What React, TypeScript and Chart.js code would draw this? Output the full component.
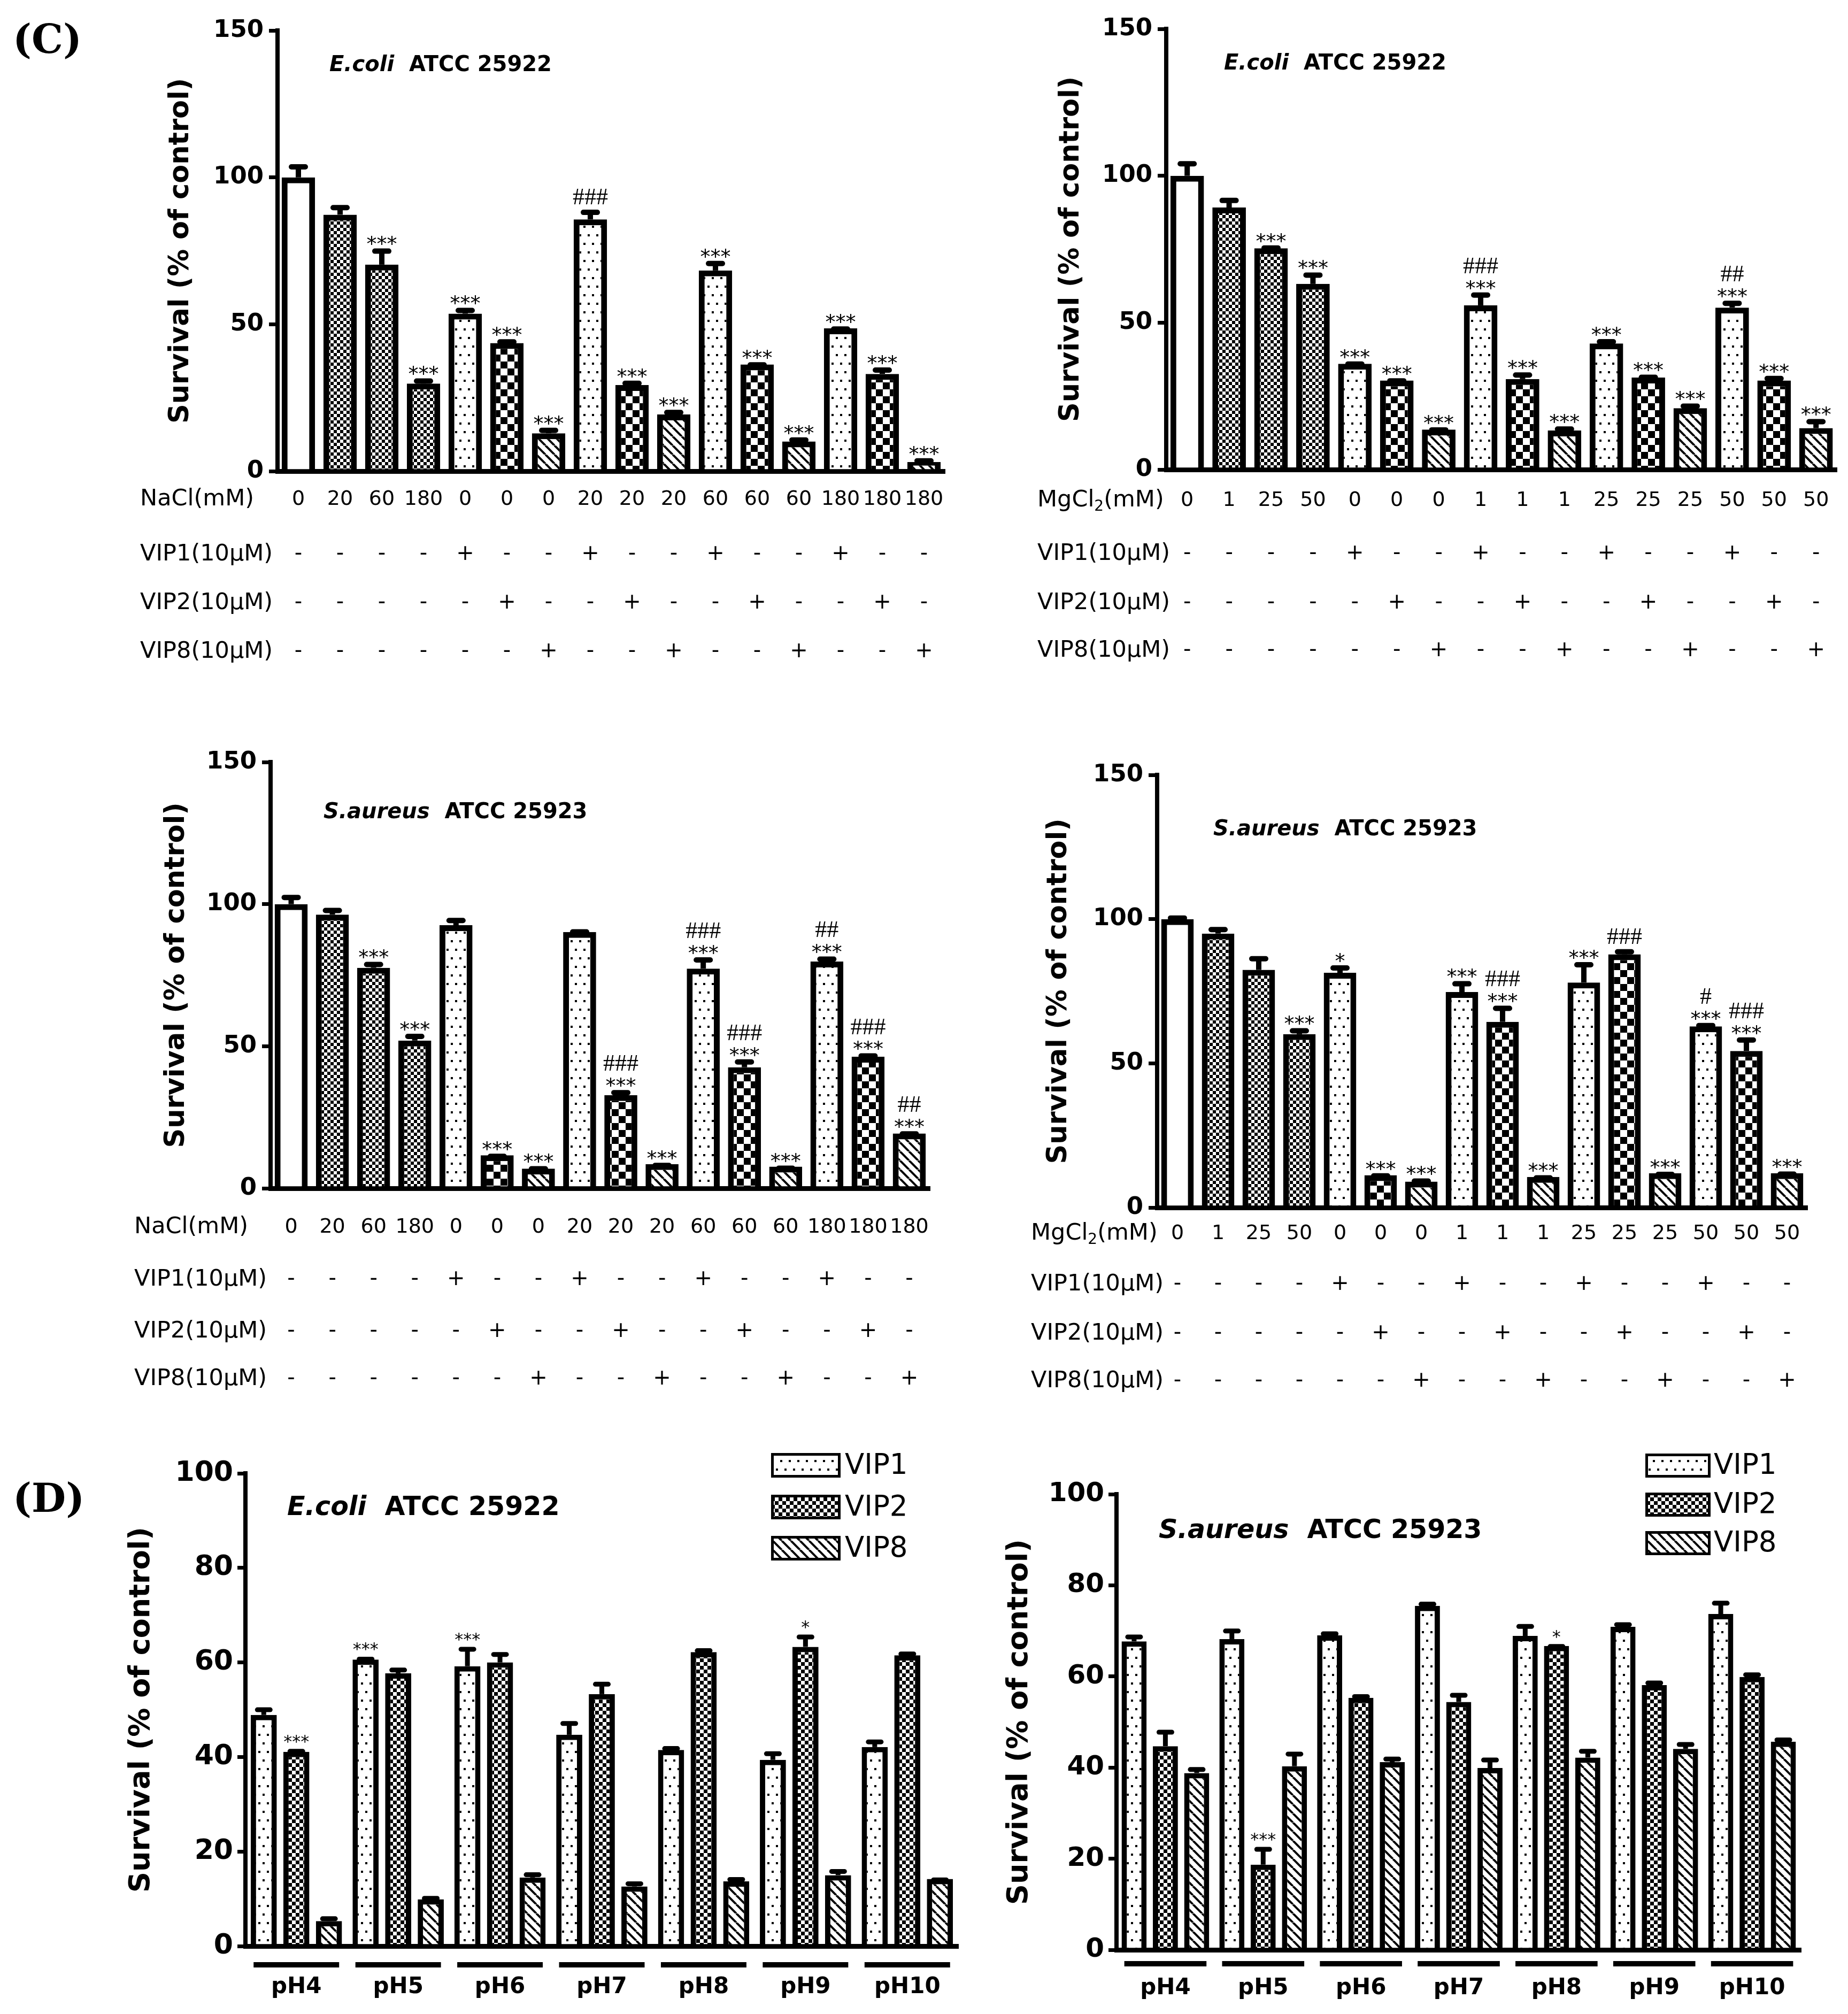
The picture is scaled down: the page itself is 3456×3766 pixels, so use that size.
import React, { useEffect, useRef } from 'react';
import { Chart, registerables } from 'chart.js';

Chart.register(...registerables);

// ---------------- DATA ----------------
const naclLabels = ['0', '20', '60', '180', '0', '0', '0', '20', '20', '20', '60', '60', '60', '180', '180', '180'];
const mgLabels = ['0', '1', '25', '50', '0', '0', '0', '1', '1', '1', '25', '25', '25', '50', '50', '50'];
const vip1Row = ['-', '-', '-', '-', '+', '-', '-', '+', '-', '-', '+', '-', '-', '+', '-', '-'];
const vip2Row = ['-', '-', '-', '-', '-', '+', '-', '-', '+', '-', '-', '+', '-', '-', '+', '-'];
const vip8Row = ['-', '-', '-', '-', '-', '-', '+', '-', '-', '+', '-', '-', '+', '-', '-', '+'];
const barPatterns = ['white', 'fine', 'fine', 'fine', 'dots', 'coarse', 'hatch', 'dots', 'coarse', 'hatch', 'dots', 'coarse', 'hatch', 'dots', 'coarse', 'hatch'];

// E.coli, NaCl
const ecoliNaclValues = [100, 87.3, 70.3, 29.8, 53.6, 43.6, 12.9, 85.7, 29.3, 19.3, 68.3, 36.3, 10.1, 48.6, 33.1, 3.1];
const ecoliNaclErrors = [4.5, 3.3, 5.5, 1.8, 2.0, 1.3, 1.9, 3.3, 1.5, 1.6, 3.3, 0.8, 1.4, 0.7, 2.2, 1.3];
const ecoliNaclStars = ['', '', '***', '***', '***', '***', '***', '', '***', '***', '***', '***', '***', '***', '***', '***'];
const ecoliNaclHashes = ['', '', '', '', '', '', '', '###', '', '', '', '', '', '', '', ''];

// E.coli, MgCl2
const ecoliMgValues = [100, 89.2, 75.3, 63.2, 36.0, 30.3, 13.6, 55.9, 30.8, 13.3, 42.9, 31.3, 20.9, 55.1, 30.3, 14.1];
const ecoliMgErrors = [5.0, 3.3, 1.0, 3.9, 0.8, 0.8, 0.8, 4.4, 2.3, 1.4, 1.5, 1.0, 1.6, 2.4, 1.6, 3.1];
const ecoliMgStars = ['', '', '***', '***', '***', '***', '***', '***', '***', '***', '***', '***', '***', '***', '***', '***'];
const ecoliMgHashes = ['', '', '', '', '', '', '', '###', '', '', '', '', '', '##', '', ''];

// S.aureus, NaCl
const saureusNaclValues = [100, 96.3, 77.6, 52.0, 92.6, 11.6, 6.9, 90.2, 32.8, 8.5, 77.3, 42.6, 7.6, 79.8, 46.3, 19.3];
const saureusNaclErrors = [3.3, 2.4, 2.1, 2.4, 2.6, 0.6, 0.9, 1.0, 1.8, 0.5, 4.0, 2.8, 0.4, 1.8, 1.2, 0.8];
const saureusNaclStars = ['', '', '***', '***', '', '***', '***', '', '***', '***', '***', '***', '***', '***', '***', '***'];
const saureusNaclHashes = ['', '', '', '', '', '', '', '', '###', '', '###', '###', '', '##', '###', '##'];

// S.aureus, MgCl2
const saureusMgValues = [100, 95.0, 82.4, 60.1, 81.4, 11.2, 9.0, 74.7, 64.4, 10.6, 78.0, 87.8, 11.9, 62.8, 54.3, 11.9];
const saureusMgErrors = [1.3, 2.3, 4.8, 2.1, 2.6, 0.7, 1.1, 3.8, 5.6, 0.6, 7.1, 1.8, 0.5, 1.2, 4.7, 0.6];
const saureusMgStars = ['', '', '', '***', '*', '***', '***', '***', '***', '***', '***', '', '***', '***', '***', '***'];
const saureusMgHashes = ['', '', '', '', '', '', '', '', '###', '', '', '###', '', '#', '###', ''];

// pH panels
const phLabels = ['pH4', 'pH5', 'pH6', 'pH7', 'pH8', 'pH9', 'pH10'];
const ecoliPhVip1 = [48.9, 60.6, 59.2, 44.7, 41.5, 39.4, 42.1];
const ecoliPhVip1Err = [1.6, 0.6, 4.1, 2.9, 0.8, 1.8, 1.6];
const ecoliPhVip1Stars = ['', '***', '***', '', '', '', ''];
const ecoliPhVip2 = [41.1, 57.7, 60.0, 53.3, 62.2, 63.3, 61.5];
const ecoliPhVip2Err = [0.6, 1.2, 2.2, 2.6, 0.8, 2.6, 0.8];
const ecoliPhVip2Stars = ['***', '', '', '', '', '*', ''];
const ecoliPhVip8 = [5.3, 9.9, 14.5, 12.6, 13.7, 15.0, 14.2];
const ecoliPhVip8Err = [1.0, 0.7, 1.1, 1.1, 0.9, 1.3, 0.3];
const ecoliPhVip8Stars = ['', '', '', '', '', '', ''];

const saureusPhVip1 = [67.7, 68.2, 69.0, 75.5, 68.9, 70.9, 73.7];
const saureusPhVip1Err = [1.5, 2.3, 0.9, 0.9, 2.6, 1.0, 2.9];
const saureusPhVip1Stars = ['', '', '', '', '', '', ''];
const saureusPhVip2 = [44.7, 18.7, 55.3, 54.4, 66.7, 58.1, 59.9];
const saureusPhVip2Err = [3.6, 3.9, 0.8, 2.0, 0.4, 1.0, 1.0];
const saureusPhVip2Stars = ['', '***', '', '', '*', '', ''];
const saureusPhVip8 = [38.8, 40.3, 41.2, 39.9, 42.2, 44.1, 45.7];
const saureusPhVip8Err = [1.3, 3.2, 1.2, 2.3, 1.9, 1.5, 0.9];
const saureusPhVip8Stars = ['', '', '', '', '', '', ''];

const rowTitles = ['VIP1(10μM)', 'VIP2(10μM)', 'VIP8(10μM)'];
const yTitle = 'Survival (% of control)';

// ---------------- STYLE / LAYOUT ----------------
const FONT = "'DejaVu Sans', 'Liberation Sans', sans-serif";
const HASHFONT = "'Liberation Serif', 'DejaVu Serif', serif";
const LETTERFONT = "'DejaVu Serif', 'Liberation Serif', serif";

function patternFor(kind: string): any {
  if (kind === 'white') return '#ffffff';
  const c = document.createElement('canvas');
  const g = c.getContext('2d') as CanvasRenderingContext2D;
  if (kind === 'fine' || kind === 'fine7' || kind === 'coarse') {
    const cell = kind === 'fine' ? 6 : kind === 'fine7' ? 7 : 13;
    c.width = cell * 2;
    c.height = cell * 2;
    g.fillStyle = '#fff';
    g.fillRect(0, 0, c.width, c.height);
    g.fillStyle = '#000';
    g.fillRect(0, 0, cell, cell);
    g.fillRect(cell, cell, cell, cell);
  } else if (kind === 'dots') {
    c.width = 16;
    c.height = 32;
    g.fillStyle = '#fff';
    g.fillRect(0, 0, 16, 32);
    g.fillStyle = '#000';
    g.fillRect(3, 6, 4, 4);
    g.fillRect(11, 22, 4, 4);
  } else if (kind === 'hatch') {
    const s = 17;
    c.width = s;
    c.height = s;
    g.fillStyle = '#fff';
    g.fillRect(0, 0, s, s);
    g.strokeStyle = '#000';
    g.lineWidth = 4;
    for (let k = -1; k <= 1; k++) {
      g.beginPath();
      g.moveTo(k * s, 0);
      g.lineTo(k * s + s, s);
      g.stroke();
    }
  }
  return g.createPattern(c, 'repeat');
}

function drawErr(ctx: CanvasRenderingContext2D, x: number, barTop: number, errTop: number, lw: number, half: number) {
  ctx.strokeStyle = '#000';
  ctx.lineWidth = lw;
  ctx.lineCap = 'butt';
  ctx.beginPath();
  ctx.moveTo(x, barTop);
  ctx.lineTo(x, errTop + lw / 2);
  ctx.stroke();
  ctx.lineCap = 'round';
  ctx.beginPath();
  ctx.moveTo(x - half, errTop + lw / 2);
  ctx.lineTo(x + half, errTop + lw / 2);
  ctx.stroke();
}

function drawSpecies(ctx: CanvasRenderingContext2D, parts: [string, string], x: number, y: number, size: number) {
  ctx.textAlign = 'left';
  ctx.textBaseline = 'middle';
  ctx.fillStyle = '#000';
  ctx.font = `italic bold ${size}px ${FONT}`;
  ctx.fillText(parts[0], x, y);
  const w = ctx.measureText(parts[0]).width;
  ctx.font = `bold ${size}px ${FONT}`;
  ctx.fillText(parts[1], x + w, y);
}

function drawYTitle(ctx: CanvasRenderingContext2D, x: number, y: number, size: number) {
  ctx.save();
  ctx.translate(x, y);
  ctx.rotate(-Math.PI / 2);
  ctx.textAlign = 'center';
  ctx.textBaseline = 'middle';
  ctx.fillStyle = '#000';
  ctx.font = `bold ${size}px ${FONT}`;
  ctx.fillText(yTitle, 0, 0);
  ctx.restore();
}

function drawLetter(ctx: CanvasRenderingContext2D, letter: any, ox: number, oy: number) {
  if (!letter) return;
  ctx.textAlign = 'left';
  ctx.textBaseline = 'middle';
  ctx.fillStyle = '#000';
  ctx.font = `bold 74px ${LETTERFONT}`;
  ctx.fillText(letter[0], letter[1] - ox, letter[2] - oy);
}

type SaltPanel = {
  kind: 'salt';
  canvas: number[];
  area: number[];
  labels: string[];
  values: number[];
  errors: number[];
  stars: string[];
  hashes: string[];
  salt: string;
  rowY: number[];
  rowTitleX: number;
  species: [string, string];
  titlePos: number[];
  yTitleX: number;
  letter?: any;
};

type PhPanel = {
  kind: 'ph';
  canvas: number[];
  area: number[];
  series: { label: string; values: number[]; errors: number[]; stars: string[]; pattern: string }[];
  labelY: number;
  lineY: number;
  legend: { x: number; w: number; h: number; tops: number[]; textX: number };
  species: [string, string];
  titlePos: number[];
  yTitleX: number;
  tickSize: number;
  letter?: any;
};

const PANELS: (SaltPanel | PhPanel)[] = [
  {
    kind: 'salt', canvas: [0, 0, 1800, 1290], area: [519, 57, 1767, 881],
    labels: naclLabels, values: ecoliNaclValues, errors: ecoliNaclErrors, stars: ecoliNaclStars, hashes: ecoliNaclHashes,
    salt: 'NaCl', rowY: [934, 1037, 1128, 1219], rowTitleX: 262,
    species: ['E.coli', '  ATCC 25922'], titlePos: [616, 123], yTitleX: 339, letter: ['(C)', 24, 80],
  },
  {
    kind: 'salt', canvas: [1860, 0, 1596, 1290], area: [2181, 54, 3442, 878],
    labels: mgLabels, values: ecoliMgValues, errors: ecoliMgErrors, stars: ecoliMgStars, hashes: ecoliMgHashes,
    salt: 'MgCl2', rowY: [936, 1036, 1128, 1217], rowTitleX: 1940,
    species: ['E.coli', '  ATCC 25922'], titlePos: [2289, 120], yTitleX: 2004,
  },
  {
    kind: 'salt', canvas: [0, 1320, 1800, 1330], area: [506, 1425, 1739, 2222],
    labels: naclLabels, values: saureusNaclValues, errors: saureusNaclErrors, stars: saureusNaclStars, hashes: saureusNaclHashes,
    salt: 'NaCl', rowY: [2295, 2393, 2490, 2579], rowTitleX: 251,
    species: ['S.aureus', '  ATCC 25923'], titlePos: [605, 1520], yTitleX: 331,
  },
  {
    kind: 'salt', canvas: [1860, 1320, 1596, 1330], area: [2164, 1449, 3380, 2258],
    labels: mgLabels, values: saureusMgValues, errors: saureusMgErrors, stars: saureusMgStars, hashes: saureusMgHashes,
    salt: 'MgCl2', rowY: [2307, 2402, 2494, 2583], rowTitleX: 1928,
    species: ['S.aureus', '  ATCC 25923'], titlePos: [2269, 1552], yTitleX: 1981,
  },
  {
    kind: 'ph', canvas: [0, 2660, 1840, 1106], area: [459, 2755, 1792, 3639],
    series: [
      { label: 'VIP1', values: ecoliPhVip1, errors: ecoliPhVip1Err, stars: ecoliPhVip1Stars, pattern: 'dots' },
      { label: 'VIP2', values: ecoliPhVip2, errors: ecoliPhVip2Err, stars: ecoliPhVip2Stars, pattern: 'fine7' },
      { label: 'VIP8', values: ecoliPhVip8, errors: ecoliPhVip8Err, stars: ecoliPhVip8Stars, pattern: 'hatch' },
    ],
    labelY: 3716, lineY: 3674,
    legend: { x: 1442, w: 130, h: 46, tops: [2717, 2795, 2872], textX: 1580 },
    species: ['E.coli', '  ATCC 25922'], titlePos: [537, 2820], yTitleX: 265, tickSize: 52, letter: ['(D)', 24, 2808],
  },
  {
    kind: 'ph', canvas: [1840, 2660, 1616, 1106], area: [2088, 2794, 3368, 3646],
    series: [
      { label: 'VIP1', values: saureusPhVip1, errors: saureusPhVip1Err, stars: saureusPhVip1Stars, pattern: 'dots' },
      { label: 'VIP2', values: saureusPhVip2, errors: saureusPhVip2Err, stars: saureusPhVip2Stars, pattern: 'fine7' },
      { label: 'VIP8', values: saureusPhVip8, errors: saureusPhVip8Err, stars: saureusPhVip8Stars, pattern: 'hatch' },
    ],
    labelY: 3718, lineY: 3672,
    legend: { x: 3077, w: 122, h: 45, tops: [2718, 2791, 2863], textX: 3205 },
    species: ['S.aureus', '  ATCC 25923'], titlePos: [2167, 2863], yTitleX: 1907, tickSize: 50,
  },
];

function saltPlugin(p: SaltPanel) {
  const ox = p.canvas[0];
  const oy = p.canvas[1];
  return {
    id: 'saltDecor',
    afterDatasetsDraw(chart: any) {
      const ctx = chart.ctx as CanvasRenderingContext2D;
      const ys = chart.scales.y;
      const meta = chart.getDatasetMeta(0);
      ctx.save();
      meta.data.forEach((bar: any, i: number) => {
        const errTop = ys.getPixelForValue(p.values[i] + p.errors[i]);
        drawErr(ctx, bar.x, bar.y, errTop, 10, 13);
      });
      ctx.restore();
    },
    afterDraw(chart: any) {
      const ctx = chart.ctx as CanvasRenderingContext2D;
      const ys = chart.scales.y;
      const xs = chart.scales.x;
      const meta = chart.getDatasetMeta(0);
      ctx.save();
      ctx.fillStyle = '#000';
      // significance marks
      meta.data.forEach((bar: any, i: number) => {
        const errTop = ys.getPixelForValue(p.values[i] + p.errors[i]);
        const starCenter = errTop - 17;
        ctx.textAlign = 'center';
        ctx.textBaseline = 'alphabetic';
        if (p.stars[i]) {
          ctx.font = `38px ${FONT}`;
          ctx.fillText(p.stars[i], bar.x, starCenter + 0.575 * 38);
        }
        if (p.hashes[i]) {
          const hc = p.stars[i] ? starCenter - 34 : errTop - 25;
          ctx.font = `44px ${HASHFONT}`;
          ctx.fillText(p.hashes[i], bar.x, hc + 0.34 * 44);
        }
      });
      // treatment table rows
      const rows = [vip1Row, vip2Row, vip8Row];
      ctx.textBaseline = 'middle';
      rows.forEach((row, r) => {
        const y = p.rowY[r + 1] - oy;
        ctx.font = `40px ${FONT}`;
        ctx.textAlign = 'center';
        row.forEach((s, i) => {
          ctx.fillText(s, xs.getPixelForValue(i), y);
        });
        ctx.textAlign = 'left';
        ctx.font = `43px ${FONT}`;
        ctx.fillText(rowTitles[r], p.rowTitleX - ox, y);
      });
      // salt row title
      const ty = p.rowY[0] - oy;
      let tx = p.rowTitleX - ox;
      ctx.textAlign = 'left';
      ctx.font = `43px ${FONT}`;
      if (p.salt === 'MgCl2') {
        ctx.fillText('MgCl', tx, ty);
        tx += ctx.measureText('MgCl').width;
        ctx.font = `28px ${FONT}`;
        ctx.fillText('2', tx, ty + 12);
        tx += ctx.measureText('2').width;
        ctx.font = `43px ${FONT}`;
        ctx.fillText('(mM)', tx, ty);
      } else {
        ctx.fillText('NaCl(mM)', tx, ty);
      }
      drawSpecies(ctx, p.species, p.titlePos[0] - ox, p.titlePos[1] - oy, 40);
      drawYTitle(ctx, p.yTitleX - ox, (chart.chartArea.top + chart.chartArea.bottom) / 2, 51);
      drawLetter(ctx, p.letter, ox, oy);
      ctx.restore();
    },
  };
}

function phPlugin(p: PhPanel, patterns: any[]) {
  const ox = p.canvas[0];
  const oy = p.canvas[1];
  return {
    id: 'phDecor',
    afterDatasetsDraw(chart: any) {
      const ctx = chart.ctx as CanvasRenderingContext2D;
      const ys = chart.scales.y;
      ctx.save();
      p.series.forEach((s, d) => {
        const meta = chart.getDatasetMeta(d);
        meta.data.forEach((bar: any, i: number) => {
          const errTop = ys.getPixelForValue(s.values[i] + s.errors[i]);
          drawErr(ctx, bar.x, bar.y, errTop, 9, 12);
        });
      });
      ctx.restore();
    },
    afterDraw(chart: any) {
      const ctx = chart.ctx as CanvasRenderingContext2D;
      const ys = chart.scales.y;
      const xs = chart.scales.x;
      ctx.save();
      ctx.fillStyle = '#000';
      // stars
      p.series.forEach((s, d) => {
        const meta = chart.getDatasetMeta(d);
        meta.data.forEach((bar: any, i: number) => {
          if (!s.stars[i]) return;
          const errTop = ys.getPixelForValue(s.values[i] + s.errors[i]);
          ctx.textAlign = 'center';
          ctx.textBaseline = 'alphabetic';
          ctx.font = `32px ${FONT}`;
          ctx.fillText(s.stars[i], bar.x, errTop - 22 + 0.575 * 32);
        });
      });
      // group underlines
      const cat = xs.width / phLabels.length;
      phLabels.forEach((_, i) => {
        const cx = xs.getPixelForValue(i);
        const half = cat * 0.42;
        ctx.fillRect(cx - half, p.lineY - oy - 5, half * 2, 10);
      });
      // legend
      const L = p.legend;
      p.series.forEach((s, d) => {
        const top = L.tops[d] - oy;
        const left = L.x - ox;
        ctx.fillStyle = patterns[d];
        ctx.fillRect(left, top, L.w, L.h);
        ctx.strokeStyle = '#000';
        ctx.lineWidth = 5;
        ctx.strokeRect(left + 2.5, top + 2.5, L.w - 5, L.h - 5);
        ctx.fillStyle = '#000';
        ctx.font = `53px ${FONT}`;
        ctx.textAlign = 'left';
        ctx.textBaseline = 'middle';
        ctx.fillText(s.label, L.textX - ox, top + L.h / 2 + 2);
      });
      drawSpecies(ctx, p.species, p.titlePos[0] - ox, p.titlePos[1] - oy, 49);
      drawYTitle(ctx, p.yTitleX - ox, (chart.chartArea.top + chart.chartArea.bottom) / 2, 54);
      drawLetter(ctx, p.letter, ox, oy);
      ctx.restore();
    },
  };
}

function buildSalt(p: SaltPanel): any {
  const [cx, cy, cw, ch] = p.canvas;
  const [al, at, ar, ab] = p.area;
  return {
    type: 'bar',
    data: {
      labels: p.labels,
      datasets: [
        {
          data: p.values,
          backgroundColor: barPatterns.map(patternFor),
          borderColor: '#000',
          borderWidth: 11,
          borderSkipped: 'start',
          barPercentage: 0.8,
          categoryPercentage: 1.0,
        },
      ],
    },
    options: {
      responsive: false,
      animation: false,
      events: [],
      layout: { padding: { left: 0, top: at - cy, right: cx + cw - ar, bottom: 0 } },
      plugins: { legend: { display: false }, tooltip: { enabled: false }, title: { display: false } },
      scales: {
        x: {
          offset: true,
          z: 1,
          grid: { display: false, drawTicks: false },
          border: { display: true, width: 9, color: '#000' },
          ticks: {
            autoSkip: false, maxRotation: 0, minRotation: 0,
            padding: p.rowY[0] - ab - 22.8,
            color: '#000',
            font: { family: FONT, size: 38, lineHeight: 1.2 },
          },
          afterFit: (s: any) => { s.height = cy + ch - ab; },
        },
        y: {
          min: 0, max: 150, z: 1,
          ticks: { stepSize: 50, padding: 10, color: '#000', font: { family: FONT, size: 45, weight: 'bold' } },
          grid: { display: true, drawOnChartArea: false, drawTicks: true, tickLength: 16, lineWidth: 7, color: '#000' },
          border: { display: true, width: 8, color: '#000' },
          afterFit: (s: any) => { s.width = al - cx; },
        },
      },
    },
    plugins: [saltPlugin(p)],
  };
}

function buildPh(p: PhPanel): any {
  const [cx, cy, cw, ch] = p.canvas;
  const [al, at, ar, ab] = p.area;
  const patterns = p.series.map((s) => patternFor(s.pattern));
  return {
    type: 'bar',
    data: {
      labels: phLabels,
      datasets: p.series.map((s, d) => ({
        label: s.label,
        data: s.values,
        backgroundColor: patterns[d],
        borderColor: '#000',
        borderWidth: 10,
        borderSkipped: 'start',
        barPercentage: 0.8,
        categoryPercentage: 0.96,
      })),
    },
    options: {
      responsive: false,
      animation: false,
      events: [],
      layout: { padding: { left: 0, top: at - cy, right: cx + cw - ar, bottom: 0 } },
      plugins: { legend: { display: false }, tooltip: { enabled: false }, title: { display: false } },
      scales: {
        x: {
          offset: true,
          z: 1,
          grid: { display: false, drawTicks: false },
          border: { display: true, width: 9, color: '#000' },
          ticks: {
            autoSkip: false, maxRotation: 0, minRotation: 0,
            padding: p.labelY - ab - 25.2,
            color: '#000',
            font: { family: FONT, size: 42, weight: 'bold', lineHeight: 1.2 },
          },
          afterFit: (s: any) => { s.height = cy + ch - ab; },
        },
        y: {
          min: 0, max: 100, z: 1,
          ticks: { stepSize: 20, padding: 8, color: '#000', font: { family: FONT, size: p.tickSize, weight: 'bold' } },
          grid: { display: true, drawOnChartArea: false, drawTicks: true, tickLength: 15, lineWidth: 7, color: '#000' },
          border: { display: true, width: 8, color: '#000' },
          afterFit: (s: any) => { s.width = al - cx; },
        },
      },
    },
    plugins: [phPlugin(p, patterns)],
  };
}

export default function App() {
  const refs = useRef<(HTMLCanvasElement | null)[]>([]);
  useEffect(() => {
    document.body.style.margin = '0';
    const charts = PANELS.map((p, i) => {
      const cfg = p.kind === 'salt' ? buildSalt(p as SaltPanel) : buildPh(p as PhPanel);
      return new Chart(refs.current[i] as HTMLCanvasElement, cfg);
    });
    return () => charts.forEach((c) => c.destroy());
  }, []);
  return (
    <div style={{ position: 'absolute', left: 0, top: 0, width: 3456, height: 3766, background: '#fff', overflow: 'hidden' }}>
      {PANELS.map((p, i) => (
        <canvas
          key={i}
          ref={(el) => { refs.current[i] = el; }}
          width={p.canvas[2]}
          height={p.canvas[3]}
          style={{ position: 'absolute', left: p.canvas[0], top: p.canvas[1], width: p.canvas[2], height: p.canvas[3] }}
        />
      ))}
    </div>
  );
}
